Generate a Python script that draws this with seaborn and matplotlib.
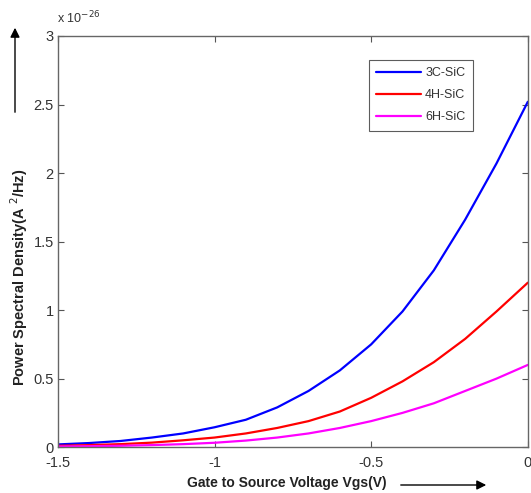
import numpy as np
import pandas as pd
import matplotlib
matplotlib.use("Agg")
import matplotlib.pyplot as plt
import seaborn as sns

# gate to source voltage (V)
vgs = [-1.5, -1.4, -1.3, -1.2, -1.1, -1.0, -0.9, -0.8, -0.7, -0.6,
       -0.5, -0.4, -0.3, -0.2, -0.1, 0.0]
# power spectral density, units of 1e-26 A^2/Hz
psd_3c = [0.02, 0.03, 0.045, 0.07, 0.10, 0.145, 0.20, 0.29, 0.41, 0.56,
          0.75, 0.99, 1.29, 1.66, 2.07, 2.52]
psd_4h = [0.01, 0.015, 0.022, 0.033, 0.05, 0.07, 0.10, 0.14, 0.19, 0.26,
          0.36, 0.48, 0.62, 0.79, 0.99, 1.20]
psd_6h = [0.005, 0.007, 0.01, 0.015, 0.022, 0.032, 0.048, 0.07, 0.10, 0.14,
          0.19, 0.25, 0.32, 0.41, 0.50, 0.60]
labels = ["3C-SiC", "4H-SiC", "6H-SiC"]
colors = ["#0000ff", "#ff0000", "#ff00ff"]

df = pd.DataFrame({
    "Vgs": vgs * 3,
    "PSD": psd_3c + psd_4h + psd_6h,
    "Material": [labels[0]] * len(vgs) + [labels[1]] * len(vgs) + [labels[2]] * len(vgs),
})

sns.set_style("white")
plt.rcParams["font.family"] = ["Liberation Sans", "DejaVu Sans"]

fig = plt.figure(figsize=(5.31, 4.93), dpi=100)
ax = fig.add_axes([0.109, 0.093, 0.885, 0.834])

sns.lineplot(data=df, x="Vgs", y="PSD", hue="Material",
             palette=dict(zip(labels, colors)), linewidth=1.6, ax=ax)

ax.set_xlim(-1.5, 0)
ax.set_ylim(0, 3)
ax.set_xticks([-1.5, -1, -0.5, 0])
ax.set_xticklabels(["-1.5", "-1", "-0.5", "0"])
ax.set_yticks([0, 0.5, 1, 1.5, 2, 2.5, 3])
ax.set_yticklabels(["0", "0.5", "1", "1.5", "2", "2.5", "3"])
ax.tick_params(direction="in", length=4, width=0.8, color="#555555",
               labelsize=10.5, labelcolor="#333333", top=True, right=True,
               bottom=True, left=True, pad=3)
ax.tick_params(axis="x", pad=6.5)
for sp in ax.spines.values():
    sp.set_color("#666666")
    sp.set_linewidth(1.0)

ax.set_xlabel("")
ax.set_ylabel("")
fig.text(0.54, 0.02, "Gate to Source Voltage Vgs(V)", fontsize=10,
         fontweight="bold", color="#222222", ha="center", va="center")
fig.text(0.036, 0.438, "Power Spectral Density(A $^{2}$/Hz)", fontsize=10.5,
         fontweight="bold", color="#222222", rotation=90,
         ha="center", va="center")
ax.annotate("", xy=(489, 8), xytext=(398, 8), xycoords="figure pixels",
            arrowprops=dict(arrowstyle="-|>", color="black", lw=1.0,
                            mutation_scale=14))
ax.annotate("", xy=(15, 468), xytext=(15, 378), xycoords="figure pixels",
            arrowprops=dict(arrowstyle="-|>", color="black", lw=1.0,
                            mutation_scale=14))
fig.text(0.108, 0.947, r"x 10$^{-26}$", fontsize=9, color="#333333",
         ha="left", va="bottom")

leg = ax.legend(loc="upper right", bbox_to_anchor=(0.883, 0.942),
                borderaxespad=0, frameon=True, fancybox=False, fontsize=9,
                handlelength=3.6, labelspacing=0.8, borderpad=0.6,
                handletextpad=0.3)
leg.get_frame().set_edgecolor("#333333")
leg.get_frame().set_linewidth(0.8)
for t in leg.get_texts():
    t.set_color("#333333")

fig.savefig("out.png", dpi=100)
